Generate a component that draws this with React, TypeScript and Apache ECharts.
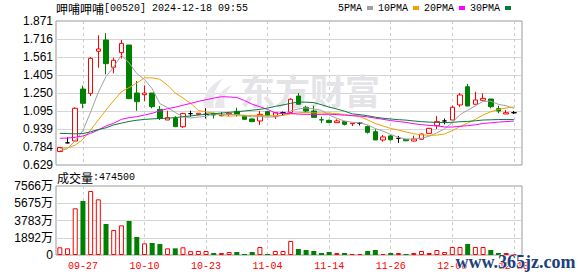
import React, { useEffect, useRef } from 'react';
import * as echarts from 'echarts';

const stockName = '呷哺呷哺';
const stockInfo = '[00520] 2024-12-18 09:55';

const dates = ['09-24','09-25','09-26','09-27','09-30','10-02','10-03','10-04','10-07','10-08','10-09','10-10','10-14','10-15','10-16','10-17','10-18','10-21','10-22','10-23','10-24','10-25','10-28','10-29','10-30','10-31','11-01','11-04','11-05','11-06','11-07','11-08','11-11','11-12','11-13','11-14','11-15','11-18','11-19','11-20','11-21','11-22','11-25','11-26','11-27','11-28','11-29','12-02','12-03','12-04','12-05','12-06','12-09','12-10','12-11','12-12','12-13','12-16','12-17','12-18'];

const opens = [0.745,0.820,0.836,1.284,1.247,1.610,1.707,1.472,1.598,1.664,1.250,1.236,1.250,1.109,1.017,1.030,0.959,1.072,1.066,1.066,1.075,1.055,1.066,1.092,1.057,1.026,1.009,1.089,1.046,1.080,1.083,1.224,1.127,1.095,1.020,1.014,0.994,1.003,0.985,0.989,0.960,0.916,0.845,0.880,0.859,0.850,0.836,0.851,0.902,0.968,1.009,1.017,1.147,1.304,1.153,1.187,1.198,1.115,1.069,1.080];
const closes = [0.780,0.820,1.118,1.161,1.549,1.630,1.503,1.532,1.678,1.201,1.175,1.250,1.132,1.030,1.037,0.960,1.072,1.072,1.075,1.066,1.060,1.055,1.075,1.066,1.023,1.003,1.066,1.054,1.080,1.080,1.196,1.153,1.095,1.040,1.017,0.995,1.009,0.980,0.989,0.989,0.911,0.845,0.871,0.847,0.859,0.838,0.853,0.896,0.945,1.003,1.009,1.127,1.233,1.138,1.190,1.204,1.132,1.095,1.080,1.080];
const lows = [0.740,0.815,0.830,1.118,1.224,1.468,1.411,1.420,1.546,1.199,1.097,1.181,1.118,1.017,1.017,0.955,0.950,1.046,1.060,1.030,1.030,1.050,1.050,1.046,1.020,1.000,0.974,1.054,1.026,1.060,1.083,1.150,1.080,1.037,0.990,0.990,0.994,0.970,0.965,0.970,0.900,0.845,0.830,0.840,0.820,0.835,0.830,0.850,0.900,0.940,0.980,1.015,1.130,1.138,1.150,1.187,1.118,1.075,1.069,1.069];
const highs = [0.784,0.868,1.127,1.313,1.560,1.748,1.767,1.555,1.707,1.664,1.353,1.316,1.250,1.138,1.097,1.050,1.080,1.097,1.075,1.118,1.080,1.083,1.083,1.123,1.060,1.030,1.095,1.097,1.083,1.090,1.205,1.250,1.140,1.140,1.046,1.020,1.023,1.010,0.989,1.000,0.970,0.937,0.888,0.890,0.880,0.855,0.882,0.900,0.950,1.050,1.030,1.140,1.250,1.328,1.261,1.247,1.200,1.140,1.103,1.095];

const ma5 = [0.752,0.770,0.840,0.925,1.086,1.256,1.392,1.475,1.578,1.509,1.418,1.367,1.287,1.158,1.125,1.082,1.046,1.034,1.043,1.049,1.069,1.066,1.066,1.064,1.056,1.044,1.047,1.042,1.045,1.057,1.095,1.113,1.121,1.113,1.100,1.060,1.031,1.008,0.998,0.992,0.976,0.943,0.921,0.893,0.867,0.852,0.854,0.859,0.878,0.907,0.941,0.996,1.063,1.102,1.139,1.178,1.179,1.152,1.140,1.118];
const ma10 = [0.772,0.778,0.800,0.850,0.931,1.017,1.103,1.185,1.260,1.297,1.337,1.380,1.381,1.368,1.317,1.250,1.207,1.161,1.100,1.087,1.075,1.056,1.050,1.054,1.052,1.057,1.056,1.054,1.055,1.056,1.070,1.080,1.082,1.079,1.078,1.078,1.072,1.065,1.055,1.046,1.018,0.987,0.965,0.945,0.930,0.914,0.898,0.890,0.885,0.887,0.897,0.925,0.961,0.990,1.023,1.060,1.088,1.108,1.121,1.129];
const ma20 = [0.859,0.862,0.868,0.879,0.902,0.931,0.966,0.989,1.023,1.037,1.046,1.060,1.075,1.097,1.115,1.127,1.145,1.160,1.178,1.192,1.206,1.218,1.216,1.211,1.185,1.153,1.131,1.108,1.078,1.072,1.073,1.068,1.066,1.066,1.065,1.067,1.064,1.059,1.055,1.051,1.044,1.033,1.023,1.012,1.004,0.996,0.985,0.977,0.970,0.967,0.957,0.956,0.963,0.968,0.976,0.987,0.993,0.999,1.003,1.008];
const ma30 = [0.902,0.900,0.898,0.900,0.915,0.935,0.950,0.975,0.990,1.005,1.015,1.022,1.027,1.030,1.033,1.038,1.045,1.052,1.060,1.066,1.072,1.077,1.083,1.089,1.095,1.102,1.109,1.120,1.135,1.147,1.161,1.172,1.171,1.167,1.149,1.128,1.112,1.093,1.070,1.063,1.054,1.041,1.032,1.026,1.020,1.016,1.009,1.003,0.999,0.996,0.995,0.997,1.002,1.005,1.010,1.017,1.019,1.021,1.021,1.021];

const volumes = [8440000,7340000,51200000,59210000,70180000,61040000,33990000,27410000,32530000,37280000,19740000,12790000,13160000,12060000,7310000,7310000,8440000,4200000,4380000,4380000,2190000,2190000,3290000,3290000,1100000,3290000,8770000,1100000,4380000,4380000,15350000,6580000,5480000,4380000,2190000,3290000,2190000,2190000,1100000,1100000,4380000,5480000,1100000,2190000,2190000,1100000,2190000,4380000,2190000,5480000,3290000,8770000,8770000,12060000,8770000,8770000,5480000,2190000,2190000,474500];

const priceMin = 0.629;
const priceMax = 1.871;
const priceTickLabels = ['0.629','0.784','0.939','1.095','1.250','1.405','1.561','1.716','1.871'];
const volMax = 75660000;

const maNames = ['5PMA','10PMA','20PMA','30PMA'];
const maColors = ['#a0a0a0','#f0a000','#ff00ff','#087a3a'];
const maData = [ma5, ma10, ma20, ma30];

const RED = '#ff0000';
const GREEN = '#008000';
const MONO = "'Liberation Mono', monospace";
const SANS = "'Liberation Sans', 'Noto Sans CJK SC', sans-serif";
const CJK = "'Noto Sans CJK SC', sans-serif";

const labelEvery = (index: number) => index % 8 === 3;

echarts.graphic.registerShape(
  'emLogo',
  echarts.graphic.extendPath('M4 30 C 2 18 10 6 24 0 C 16 8 12 18 14 30 Z M15 30 C 15 20 21 11 32 7 C 25 14 23 22 25 30 Z', {})
);

export default function App() {
  const ref = useRef<HTMLDivElement>(null);
  useEffect(() => {
    if (!ref.current) return;
    const chart = echarts.init(ref.current, undefined, { renderer: 'svg' });
    const plotW = 461.7;
    const frameW = 466;
    const dashed = { show: true, interval: labelEvery, alignWithLabel: true, lineStyle: { color: '#cccccc', type: [3, 3], width: 1 } };
    const richText = {
      c: { fontFamily: CJK, fontSize: 12, color: '#000', fontWeight: 'normal' },
      a: { fontFamily: MONO, fontSize: 10, color: '#000', fontWeight: 'normal' },
    };
    const option: any = {
      animation: false,
      backgroundColor: '#ffffff',
      title: [
        {
          left: 56, top: 2, padding: 0,
          text: `{c|${stockName}}{a|${stockInfo}}`,
          textStyle: { fontWeight: 'normal', rich: richText },
        },
        {
          left: 57, top: 171, padding: 0,
          text: `{c|成交量}{a|:${volumes[volumes.length - 1]}}`,
          textStyle: { fontWeight: 'normal', rich: richText },
        },
      ],
      legend: {
        data: maNames, left: 338, top: 3, padding: 0, align: 'right', itemGap: 5,
        itemWidth: 6, itemHeight: 4, icon: 'rect',
        textStyle: { fontFamily: MONO, fontSize: 10, color: '#000', padding: 0 },
      },
      grid: [
        { left: 56, top: 21, width: plotW, height: 144 },
        { left: 56, top: 21, width: frameW, height: 144, show: true, borderColor: '#999', borderWidth: 1, backgroundColor: 'transparent' },
        { left: 56, top: 186, width: plotW, height: 69 },
        { left: 56, top: 186, width: frameW, height: 69, show: true, borderColor: '#999', borderWidth: 1, backgroundColor: 'transparent' },
      ],
      xAxis: [
        { gridIndex: 0, type: 'category', data: dates, boundaryGap: true, axisLine: { show: false }, axisTick: { show: false }, axisLabel: { show: false }, splitLine: dashed },
        { gridIndex: 1, type: 'value', min: 0, max: 1, show: false },
        {
          gridIndex: 2, type: 'category', data: dates, boundaryGap: true, axisLine: { show: false }, axisTick: { show: false },
          axisLabel: { show: true, interval: labelEvery, color: RED, fontFamily: MONO, fontSize: 10, margin: 6, hideOverlap: false },
          splitLine: dashed,
        },
        { gridIndex: 3, type: 'value', min: 0, max: 1, show: false },
      ],
      yAxis: [
        { gridIndex: 0, type: 'value', min: priceMin, max: priceMax, show: false },
        {
          gridIndex: 1, type: 'value', min: 0, max: 8, interval: 1,
          axisLine: { show: false }, axisTick: { show: false },
          axisLabel: { show: true, showMinLabel: true, showMaxLabel: true, formatter: (v: number) => priceTickLabels[Math.round(v)], color: '#000', fontFamily: SANS, fontSize: 12, margin: 3 },
          splitLine: { show: true, showMinLine: false, showMaxLine: false, lineStyle: { color: '#d4d4d4', width: 1 } },
        },
        { gridIndex: 2, type: 'value', min: 0, max: volMax, show: false },
        {
          gridIndex: 3, type: 'value', min: 0, max: volMax, interval: volMax / 4,
          axisLine: { show: false }, axisTick: { show: false },
          axisLabel: { show: true, showMinLabel: true, showMaxLabel: true, formatter: (v: number) => (v === 0 ? '0' : Math.round(v / 10000) + '万'), color: '#000', fontFamily: SANS, fontSize: 12, margin: 3 },
          splitLine: { show: true, showMinLine: false, showMaxLine: false, lineStyle: { color: '#d4d4d4', width: 1 } },
        },
      ],
      graphic: [
        {
          type: 'emLogo', x: 200, y: 78, z: 1, silent: true,
          style: { fill: '#e8e8ec' },
        },
        {
          type: 'text', left: 240, top: 72, z: 1, silent: true,
          style: { text: '东方财富', fontFamily: CJK, fontSize: 35, fontWeight: 'bold', fill: '#e4e4e8' },
        },
        {
          type: 'text', left: 455, top: 252, z: 100, silent: true,
          style: { text: 'www.365jz.com', fontFamily: "'Liberation Serif', serif", fontSize: 18, fontWeight: 'bold', fill: '#203f7c', stroke: '#ffffff', lineWidth: 1 },
        },
      ],
      series: [
        {
          type: 'candlestick', name: 'K', xAxisIndex: 0, yAxisIndex: 0, barWidth: 5,
          data: opens.map((o, i) => [o, closes[i], lows[i], highs[i]]),
          itemStyle: { color: '#ffffff', color0: GREEN, borderColor: RED, borderColor0: GREEN, borderColorDoji: '#000000', borderWidth: 1 },
          z: 2,
        },
        ...maNames.map((name, k) => ({
          type: 'line', name, xAxisIndex: 0, yAxisIndex: 0, data: maData[k], symbol: 'none', showSymbol: false,
          lineStyle: { width: 1, color: maColors[k] }, itemStyle: { color: maColors[k] }, z: 3, silent: true,
        })),
        {
          type: 'bar', name: 'VOL', xAxisIndex: 2, yAxisIndex: 2, barWidth: 5,
          data: volumes.map((v, i) => ({
            value: v,
            itemStyle: closes[i] >= opens[i]
              ? { color: '#ffffff', borderColor: RED, borderWidth: 1 }
              : { color: GREEN, borderColor: GREEN, borderWidth: 0 },
          })),
        },
      ],
    };
    chart.setOption(option);
    return () => chart.dispose();
  }, []);
  return <div ref={ref} style={{ position: 'fixed', left: 0, top: 0, width: 578, height: 276, background: '#fff' }} />;
}
